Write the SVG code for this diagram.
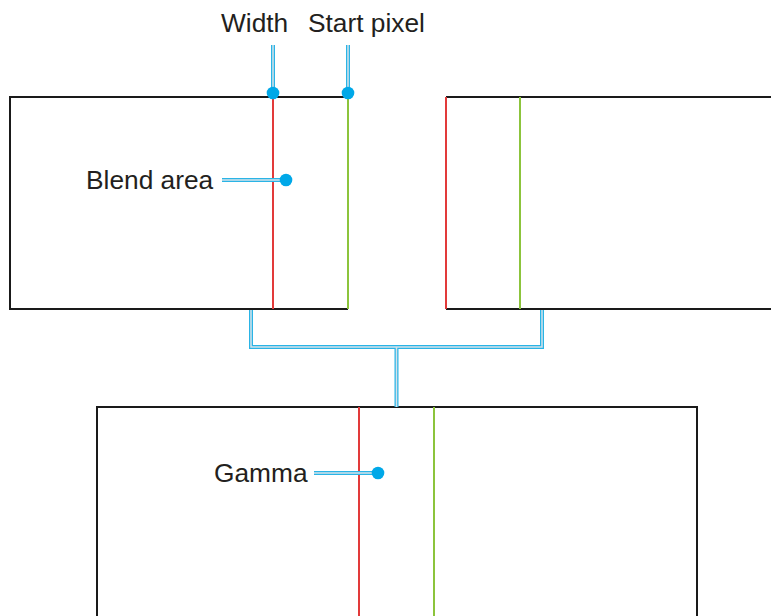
<svg xmlns="http://www.w3.org/2000/svg" width="771" height="616" viewBox="0 0 771 616">
<style>
.box{fill:none;stroke:#1a1a1a;stroke-width:2}
.red{stroke:#e23a3a;stroke-width:2}
.grn{stroke:#8cc43c;stroke-width:2}
.lo{fill:none;stroke:#2ab4e6;stroke-width:4}
.li{fill:none;stroke:#d6e2ea;stroke-width:1.5}
.dot{fill:#00a8e8}
text{font-family:"Liberation Sans",Arial,sans-serif;font-size:26.3px;fill:#231f20}
</style>
<rect width="771" height="616" fill="#fff"/>
<g id="left-panel">
<path class="box" d="M348,97 H10 V309 H348"/>
<line class="red" x1="273" y1="97" x2="273" y2="309"/>
<line class="grn" x1="348" y1="97" x2="348" y2="309"/>
</g>
<g id="right-panel">
<path class="box" d="M771,97 H446 M446,309 H771"/>
<line class="red" x1="446" y1="97" x2="446" y2="309"/>
<line class="grn" x1="520" y1="97" x2="520" y2="309"/>
</g>
<g id="bottom-panel">
<path class="box" d="M97,616 V407 H697 V616"/>
<line class="red" x1="359" y1="407" x2="359" y2="616"/>
<line class="grn" x1="434" y1="407" x2="434" y2="616"/>
</g>
<g id="connectors">
<path class="lo" d="M251,310 V347 H542 V310 M396.5,347 V407"/>
<path class="li" d="M251,310 V347 H542 V310 M396.5,347 V407"/>
<path class="lo" d="M273,45 V93 M348,45 V93 M222,180 H286 M314,473 H378"/>
<path class="li" d="M273,45 V93 M348,45 V93 M222,180 H286 M314,473 H378"/>
</g>
<g id="label-width">
<text x="221" y="32">Width</text>
<circle class="dot" cx="273" cy="93" r="6.3"/>
</g>
<g id="label-start-pixel">
<text x="308" y="32">Start pixel</text>
<circle class="dot" cx="348" cy="93" r="6.3"/>
</g>
<g id="label-blend-area">
<text x="86" y="189">Blend area</text>
<circle class="dot" cx="286" cy="180" r="6.3"/>
</g>
<g id="label-gamma">
<text x="214" y="482">Gamma</text>
<circle class="dot" cx="378" cy="473" r="6.3"/>
</g>
</svg>
